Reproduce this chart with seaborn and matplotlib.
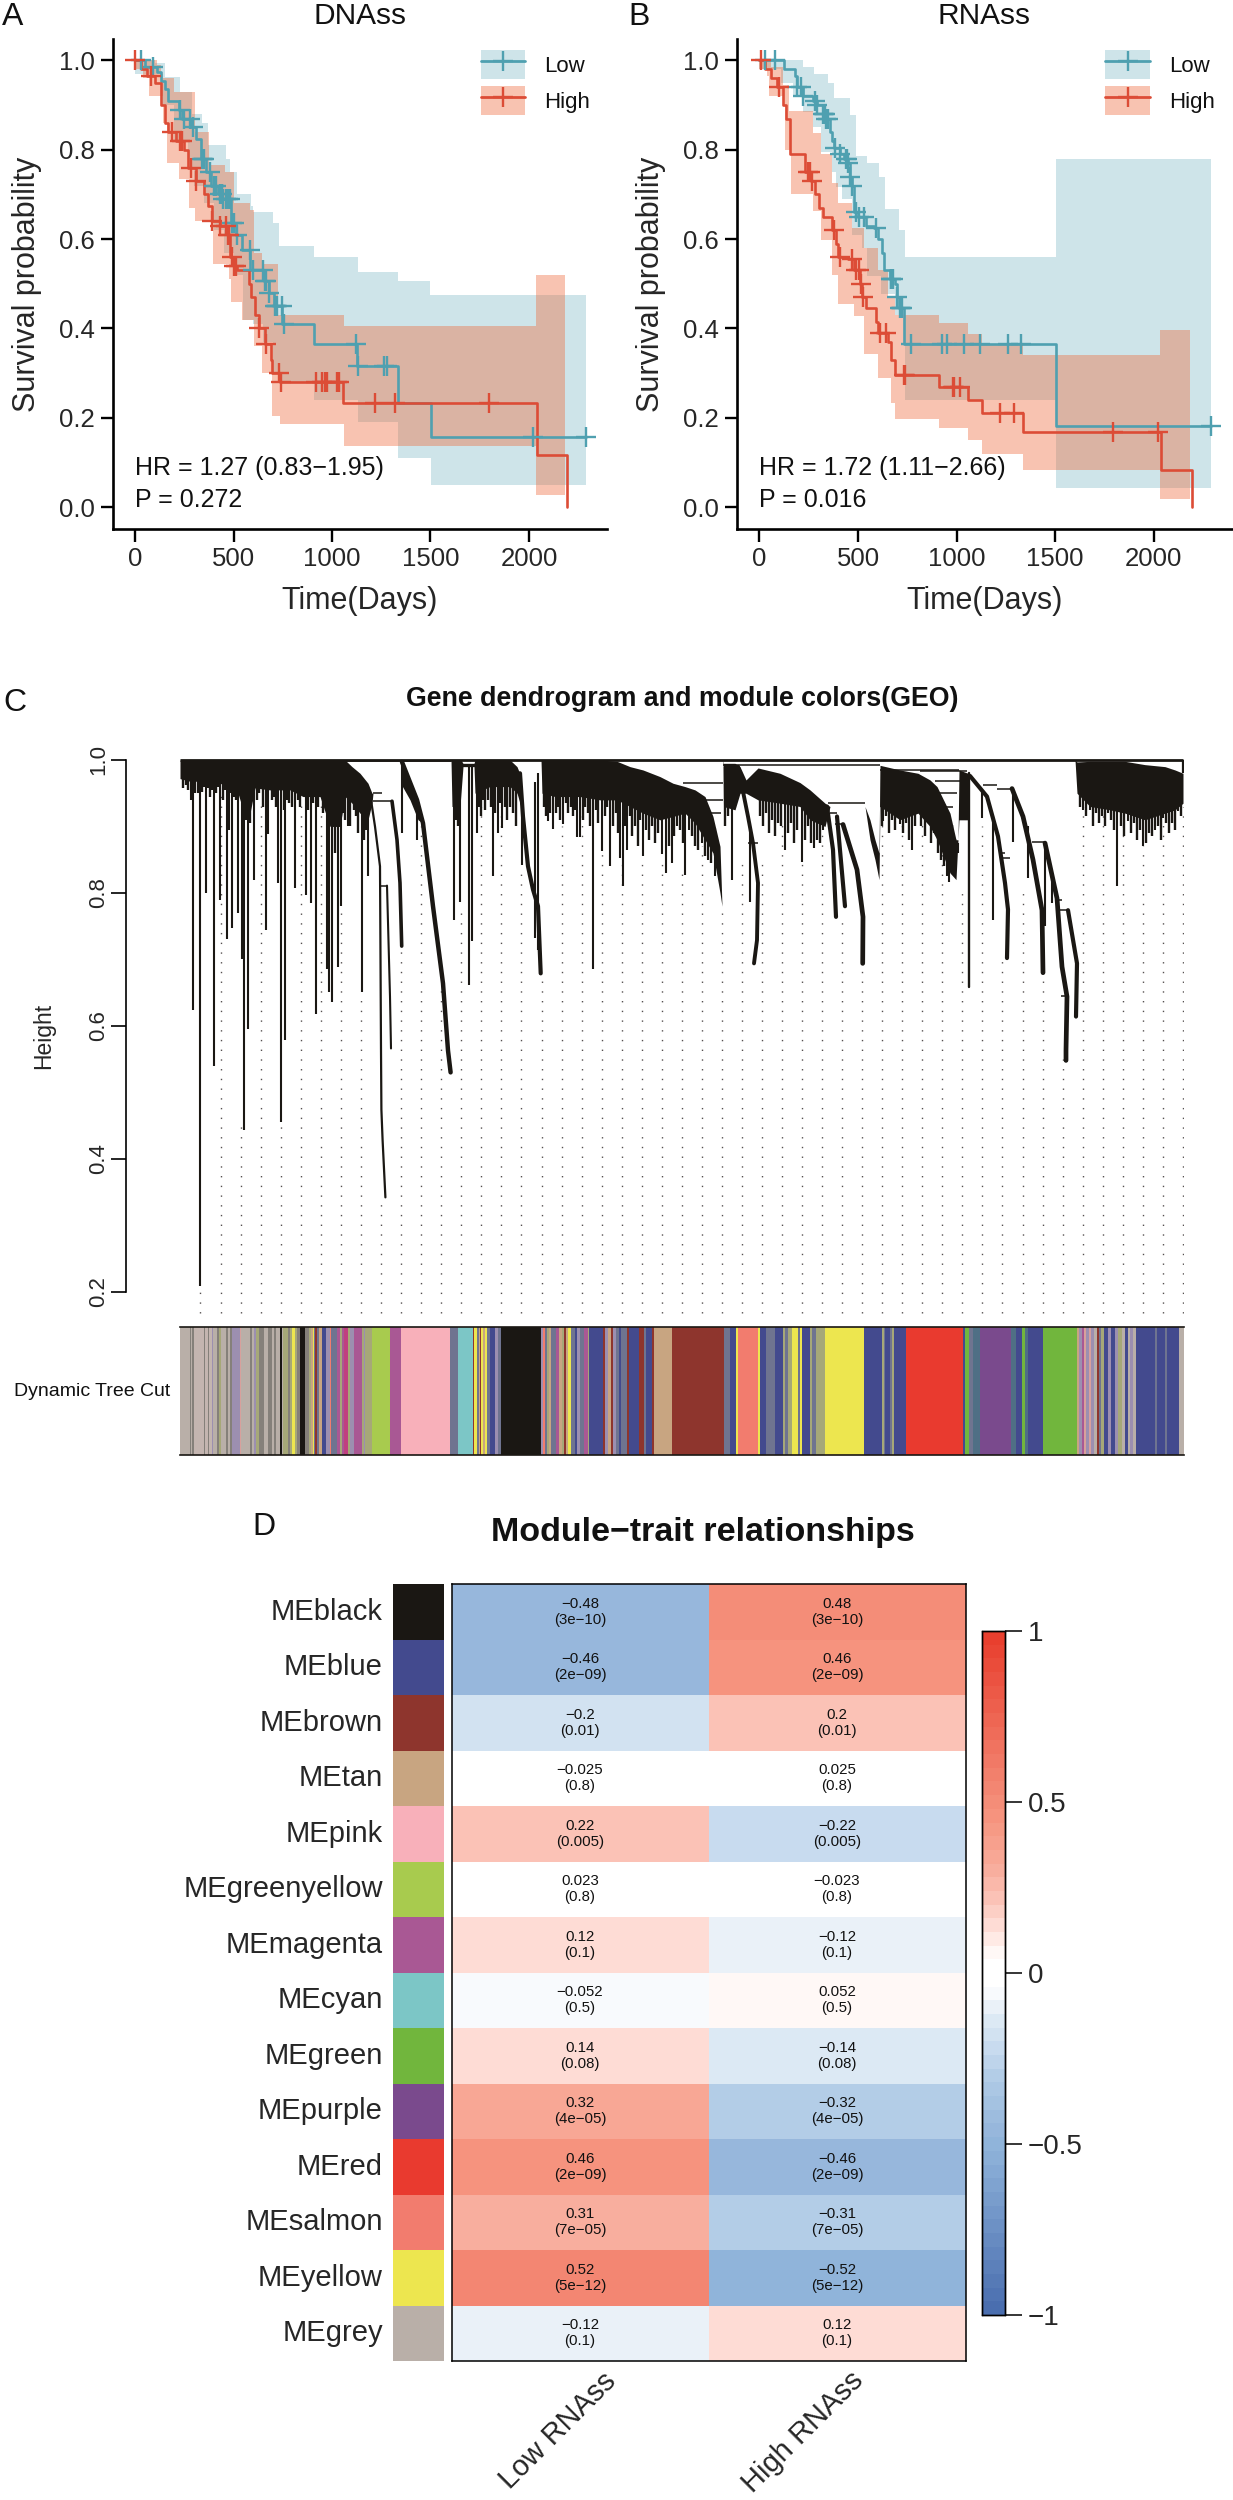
import numpy as np
import pandas as pd
import matplotlib
matplotlib.use('Agg')
import matplotlib.pyplot as plt
import seaborn as sns
from matplotlib.colors import LinearSegmentedColormap, ListedColormap
from matplotlib.legend_handler import HandlerTuple
from matplotlib.lines import Line2D
from matplotlib.patches import Patch
from matplotlib.transforms import ScaledTranslation

# panel A, DNAss
a_low_t = [0, 50, 110, 130, 150, 170, 222, 240, 283, 310, 333, 360, 384, 420, 444, 485, 515, 545, 586, 656, 680, 707, 747, 909, 1127, 1333, 1505, 2290]
a_low_s = [1.0, .985, .975, .955, .935, .91, .89, .87, .85, .825, .78, .75, .72, .70, .69, .635, .61, .575, .53, .507, .48, .45, .41, .365, .315, .234, .157, .157]
a_low_up_t = [0, 100, 150, 230, 290, 340, 370, 460, 480, 520, 590, 600, 700, 730, 910, 1130, 1335, 1500, 2290]
a_low_up = [1, .995, .964, .93, .88, .86, .81, .78, .75, .70, .675, .66, .635, .585, .56, .527, .507, .475, .475]
a_low_lo_t = [0, 130, 200, 270, 300, 350, 400, 450, 500, 550, 600, 650, 700, 730, 910, 1130, 1333, 1505, 2290]
a_low_lo = [.97, .90, .82, .76, .72, .68, .62, .57, .52, .42, .41, .37, .30, .28, .24, .19, .11, .05, .05]
a_high_t = [0, 30, 60, 100, 130, 150, 170, 210, 250, 270, 310, 350, 370, 390, 430, 470, 480, 500, 520, 580, 590, 610, 630, 660, 690, 695, 735, 1055, 2040, 2195]
a_high_s = [1.0, .98, .966, .95, .90, .86, .84, .82, .80, .76, .73, .70, .675, .64, .63, .61, .56, .54, .53, .50, .47, .43, .40, .365, .33, .30, .28, .233, .117, 0.0]
a_high_up_t = [0, 110, 130, 141, 200, 303, 374, 455, 505, 586, 606, 646, 727, 1060, 2036, 2182]
a_high_up = [1, .99, .97, .96, .93, .84, .765, .75, .68, .665, .57, .545, .43, .405, .52, .52]
a_high_lo_t = [0, 40, 70, 141, 160, 222, 272, 303, 394, 475, 485, 545, 606, 646, 697, 737, 1060, 2036, 2182]
a_high_lo = [.98, .96, .92, .86, .77, .735, .67, .64, .545, .51, .46, .42, .36, .30, .205, .185, .136, .028, .028]
a_low_cens = [30, 90, 230, 250, 280, 295, 340, 345, 350, 380, 400, 410, 430, 440, 445, 460, 470, 480, 490, 505, 520, 585, 600, 650, 660, 665, 680, 710, 715, 720, 745, 755, 1120, 1130, 1265, 1280, 2020, 2290]
a_high_cens = [0, 80, 190, 230, 240, 285, 310, 390, 430, 460, 470, 475, 490, 500, 515, 630, 665, 730, 740, 920, 950, 965, 975, 1025, 1035, 1220, 1320, 1795]

# panel B, RNAss
b_low_t = [0, 125, 180, 190, 220, 270, 290, 320, 340, 360, 370, 380, 410, 430, 450, 460, 470, 480, 500, 540, 580, 600, 620, 630, 660, 690, 700, 710, 735, 1505, 2290]
b_low_s = [1.0, .98, .965, .94, .92, .91, .90, .88, .87, .84, .82, .805, .79, .78, .77, .74, .72, .66, .65, .63, .625, .60, .57, .53, .51, .50, .47, .445, .365, .182, .182]
b_low_up_t = [0, 219, 279, 349, 379, 459, 489, 548, 608, 638, 688, 708, 738, 1505, 2290]
b_low_up = [1, .985, .97, .95, .917, .877, .785, .77, .74, .668, .668, .62, .56, .78, .78]
b_low_lo_t = [0, 110, 170, 220, 270, 310, 370, 390, 420, 470, 520, 548, 618, 688, 738, 1505, 2290]
b_low_lo = [.98, .95, .92, .885, .85, .795, .75, .717, .69, .61, .58, .517, .477, .43, .24, .043, .043]
b_high_t = [0, 30, 60, 90, 120, 135, 155, 230, 260, 280, 300, 320, 370, 390, 400, 450, 480, 510, 520, 540, 590, 600, 650, 670, 690, 910, 1060, 1130, 1335, 2040, 2195]
b_high_s = [1.0, .98, .96, .94, .90, .87, .79, .75, .73, .70, .67, .65, .62, .59, .56, .555, .53, .50, .47, .445, .415, .39, .37, .33, .295, .27, .24, .21, .168, .083, 0.0]
b_high_up_t = [0, 60, 120, 150, 230, 270, 310, 370, 400, 470, 530, 600, 650, 688, 910, 1057, 1130, 1336, 2034, 2183]
b_high_up = [1, .985, .945, .886, .886, .837, .79, .726, .68, .624, .58, .53, .468, .43, .413, .388, .363, .34, .397, .397]
b_high_lo_t = [0, 40, 50, 120, 130, 160, 230, 270, 310, 370, 400, 480, 530, 600, 670, 690, 910, 1057, 1127, 1336, 2034, 2183]
b_high_lo = [.98, .966, .92, .90, .80, .70, .70, .664, .597, .52, .455, .428, .343, .29, .232, .197, .177, .15, .12, .083, .018, .018]
b_low_cens = [30, 80, 190, 210, 220, 280, 290, 320, 330, 335, 340, 350, 385, 410, 440, 445, 450, 460, 470, 490, 505, 530, 590, 665, 670, 680, 700, 715, 720, 725, 770, 925, 950, 1040, 1120, 1260, 1325, 2290]
b_high_cens = [10, 100, 245, 255, 265, 380, 410, 470, 490, 505, 515, 525, 610, 640, 735, 740, 980, 985, 1020, 1220, 1290, 1795, 2020]

# panel C, gene dendrogram, x is gene rank along the tree
canopy_x = [0, 10, 23, 40, 57, 62, 70, 75, 90, 110, 123, 140, 150, 160, 165, 172, 180, 188, 192, 193, 222, 222.5, 230, 238, 243, 271, 272, 280, 281, 283, 294, 295, 310, 330, 337, 341, 343, 361, 362, 375, 400, 420, 437, 450, 463, 480, 493, 505, 515, 525, 533, 540, 542, 543, 543.5, 555, 560, 566, 578, 600, 620, 630, 645, 650, 685, 690, 695, 699, 700, 720, 738, 750, 757, 770, 776, 778, 779, 788, 789, 895, 897, 910, 930, 945, 965, 985, 995, 1003]
canopy_top = [1, 1, 1, 1, 1, 1, 1, 1, 1, 1, 1, 1, 1, 1, 1, .99, .98, .965, .95, .95, .997, .997, .97, .94, .905, 1, 1, 1, 1, .995, .995, 1, 1, 1, .99, .975, .915, 1, 1, 1, 1, 1, .998, .99, .985, .975, .965, .96, .955, .945, .915, .87, .78, 1, .995, .995, .99, .97, .988, .98, .966, .955, .935, .93, .93, .91, .88, .86, .992, .985, .98, .97, .96, .92, .88, .88, .985, .98, .98, 1, .997, .998, .998, .998, .993, .99, .985, .98]
canopy_low = [.972, .968, .968, .965, .955, .93, .92, .958, .955, .955, .945, .945, .90, .90, .945, .935, .92, .91, .935, .95, .997, .96, .94, .91, .905, 1, .93, .93, .95, .99, .99, .95, .96, .96, .95, .93, .915, 1, .95, .945, .945, .94, .94, .93, .92, .91, .915, .92, .905, .88, .86, .80, .78, 1, .93, .925, .95, .95, .94, .935, .93, .91, .90, .93, .93, .88, .85, .82, .93, .91, .92, .90, .88, .83, .82, .88, .91, .91, .98, 1, .95, .93, .925, .92, .91, .92, .925, .935]
spike_x = [11, 13, 18, 20, 26, 28, 34, 40, 47, 49, 52, 58, 62, 64, 68, 74, 86, 88, 98, 101, 105, 115, 126, 131, 136, 147, 149, 152, 158, 161, 168, 182, 188,
           222, 237, 274, 280, 289, 292, 297, 313, 318, 322, 342, 355, 358,
           368, 373, 383, 397, 400, 413, 422, 430, 440, 443, 447, 463, 482, 486, 492, 497, 505, 509, 522, 528, 535, 552, 605, 622, 634, 643,
           703, 720, 732, 748, 767, 769, 778,
           903, 910, 928, 937, 948, 963, 975, 983, 998]
spike_low = [.94, .624, .95, .209, .80, .958, .54, .79, .73, .895, .747, .77, .70, .444, .596, .82, .744, .888, .815, .455, .578, .807, .797, .785, .618, .686, .651, .636, .689, .78, .90, .651, .825,
             .89, .879, .76, .787, .662, .727, .89, .825, .89, .898, .842, .732, .714,
             .908, .896, .904, .884, .884, .686, .863, .841, .852, .81, .865, .855, .859, .83, .845, .90, .827, .895, .875, .85, .825, .82, .865, .846, .868, .895,
             .908, .903, .865, .92, .825, .817, .86,
             .925, .925, .92, .81, .908, .87, .895, .913, .923]
hair_x = [3, 6, 8, 15, 22, 24, 30, 32, 36, 38, 43, 45, 50, 54, 56, 66, 70, 72, 77, 79, 83, 92, 94, 96, 104, 107, 109, 112, 118, 120, 128, 133, 138, 143, 145, 155, 163, 165, 170, 174, 176, 178, 184, 186,
          276, 278, 299, 301, 303, 305, 308, 311, 315, 320, 325, 327, 330, 333, 336,
          364, 366, 370, 376, 378, 380, 386, 388, 391, 393, 395, 403, 405, 408, 410, 416, 418, 425, 427, 433, 436, 438, 445, 450, 452, 455, 458, 460, 466, 469, 472, 475, 478, 489, 494, 500, 503, 512, 515, 518, 525, 531,
          545, 548,
          580, 583, 586, 589, 592, 595, 598, 601, 608, 611, 614, 617, 625, 628, 631, 637, 640,
          702, 706, 709, 712, 715, 723, 726, 729, 735, 741, 745, 751, 754, 758, 761, 764, 772, 775,
          900, 906, 913, 916, 919, 922, 925, 931, 934, 941, 944, 951, 954, 957, 960, 966, 969, 972, 978, 981, 986, 989, 992, 995, 1001]
hair_low = [.958, .962, .955, .95, .952, .96, .945, .955, .95, .96, .94, .955, .95, .945, .94, .91, .905, .945, .94, .95, .93, .94, .945, .93, .925, .94, .935, .93, .94, .93, .925, .935, .93, .92, .93, .86, .92, .91, .90, .925, .915, .89, .88, .895,
            .91, .90, .93, .915, .94, .925, .94, .93, .92, .935, .93, .91, .93, .92, .90,
            .93, .915, .92, .92, .93, .91, .935, .92, .93, .915, .925, .91, .93, .92, .90, .925, .905, .915, .93, .90, .92, .89, .90, .915, .885, .90, .87, .91, .895, .88, .90, .875, .89, .87, .885, .895, .875, .885, .87, .865, .855, .845,
            .90, .915,
            .915, .90, .92, .89, .91, .885, .905, .90, .89, .905, .875, .895, .88, .90, .875, .88, .875,
            .90, .915, .89, .91, .895, .89, .905, .88, .90, .90, .885, .875, .89, .86, .85, .84, .83, .84,
            .93, .915, .90, .92, .905, .915, .90, .91, .895, .90, .885, .89, .905, .88, .895, .875, .89, .885, .90, .88, .905, .89, .905, .895, .915]
tail_spike_x = [813, 802, 833, 848, 865, 872, 570]
tail_spike_low = [.76, .913, .877, .822, .75, .785, .787]
tail_spike_top = [.915, .955, .95, .90, .87, .83, .90]
tail_1_x, tail_1_h = [190, 195, 200, 201, 201.4, 202.6, 205.4], [.95, .90, .84, .564, .474, .428, .342]
tail_2_x, tail_2_h = [207, 210, 211], [.811, .644, .566]
tail_3_x, tail_3_h = [212, 217, 220, 221.7], [.938, .88, .815, .72]
tail_4_x, tail_4_h = [222, 237, 243, 253, 263, 268, 270.6], [.997, .94, .905, .78, .664, .563, .53]
tail_5_x, tail_5_h = [340, 343, 348, 353, 358, 360.7], [.98, .915, .84, .805, .78, .679]
tail_6_x, tail_6_h = [558, 568, 573, 578, 577, 574], [.99, .915, .875, .815, .729, .694]
tail_7_x, tail_7_h = [647, 653, 656], [.93, .865, .764]
tail_8_x, tail_8_h = [657, 665], [.915, .78]
tail_9_x, tail_9_h = [663, 677, 683, 682.7], [.903, .835, .764, .694]
tail_10_x, tail_10_h = [789, 789], [.98, .659]
tail_11_x, tail_11_h = [790, 807, 818, 825, 828, 827], [.976, .945, .885, .815, .775, .702]
tail_12_x, tail_12_h = [832, 843, 853, 862, 863], [.957, .915, .85, .774, .68]
tail_13_x, tail_13_h = [865, 877, 882, 887, 886, 886], [.875, .792, .689, .644, .563, .548]
tail_14_x, tail_14_h = [888, 897, 896], [.774, .694, .614]
bracket_x0 = [193, 193, 200, 162, 222, 503, 525, 530, 568, 648, 650, 655, 543, 700, 740, 755, 760, 763, 803, 817, 822, 822, 852, 877, 877, 881]
bracket_x1 = [202, 212, 207, 222, 271, 543, 543, 541, 578, 685, 657, 662, 700, 779, 787, 780, 777, 773, 817, 832, 825, 830, 864, 882, 888, 886]
bracket_h = [.95, .938, .811, .998, .998, .966, .94, .92, .875, .935, .92, .904, .993, .985, .983, .968, .95, .93, .962, .957, .86, .853, .876, .79, .774, .645]
guide_x = [20, 41, 61, 81, 101, 121, 141, 161, 181, 201, 221, 241, 261, 281, 301, 321, 341, 362, 382, 402, 422, 442, 462, 482, 502, 522, 542, 562, 582, 602, 622, 642, 662, 682, 702, 722, 742, 762, 782, 802, 822, 843, 863, 883, 903, 923, 943, 963, 983, 1003]
guide_top = [.21, .955, .45, .94, .455, .94, .94, .78, .65, .34, .72, .90, .66, .78, .93, .93, .84, .68, .90, .92, .86, .85, .85, .85, .83, .87, .78, .85, .85, .91, .85, .90, .76, .69, .92, .91, .91, .87, .81, .90, .70, .80, .68, .55, .93, .92, .90, .87, .91, .93]

band_colors = {
    'grey': '#B9AFA8', 'black': '#1A1713', 'blue': '#434A8E', 'brown': '#8E352D', 'tan': '#C8A581',
    'pink': '#F8B0BA', 'greenyellow': '#A8CB4E', 'magenta': '#A95894', 'cyan': '#7CC6C6', 'green': '#71B63D',
    'purple': '#7A4A8D', 'red': '#E93A2F', 'salmon': '#F27C6E', 'yellow': '#EDE64F',
    'dim': '#85807A', 'g2': '#C4B5B0', 'lilac': '#9C8FB0', 'olive': '#A6A878', 'rose': '#D8A09C',
    'slate': '#6F7490', 'crimson': '#C0407F', 'teal': '#4F6F85',
}
band_modules = ['grey', 'dim', 'grey', 'dim', 'g2', 'dim', 'g2', 'dim', 'g2', 'lilac', 'grey', 'dim', 'olive', 'grey', 'dim', 'grey', 'dim', 'lilac', 'rose', 'grey', 'dim', 'grey', 'lilac', 'olive', 'dim', 'grey', 'dim', 'grey', 'dim', 'grey', 'black', 'grey', 'olive', 'dim', 'olive', 'yellow', 'olive', 'dim', 'black',
                'dim', 'olive', 'tan', 'yellow', 'slate', 'brown', 'slate', 'tan', 'blue', 'lilac', 'salmon', 'slate', 'magenta', 'olive', 'magenta', 'crimson', 'olive', 'lilac', 'magenta', 'olive', 'lilac', 'olive',
                'greenyellow', 'magenta', 'pink', 'slate', 'cyan', 'brown', 'yellow', 'slate', 'tan', 'brown', 'yellow', 'tan', 'yellow', 'slate', 'blue', 'lilac', 'slate', 'black',
                'lilac', 'salmon', 'slate', 'olive', 'tan', 'slate', 'magenta', 'tan', 'olive', 'brown', 'tan', 'yellow', 'slate', 'blue', 'lilac', 'slate', 'magenta', 'olive', 'blue', 'brown', 'lilac', 'tan', 'brown', 'lilac', 'slate', 'blue', 'slate', 'brown', 'blue', 'brown', 'slate', 'blue', 'brown', 'tan', 'brown',
                'slate', 'blue', 'yellow', 'salmon', 'yellow', 'blue', 'slate', 'blue', 'olive', 'slate', 'olive', 'yellow', 'slate', 'yellow', 'blue', 'olive', 'slate', 'olive', 'yellow',
                'blue', 'olive', 'slate', 'blue', 'slate', 'olive', 'blue', 'red', 'blue', 'green', 'slate', 'teal', 'purple', 'teal', 'blue', 'green', 'teal', 'blue', 'green',
                'tan', 'lilac', 'magenta', 'rose', 'lilac', 'rose', 'lilac', 'grey', 'brown', 'slate', 'olive', 'blue', 'lilac', 'blue', 'lilac', 'olive', 'grey', 'blue', 'grey', 'lilac', 'grey', 'blue', 'slate', 'blue', 'slate', 'blue', 'grey']
band_right = [10, 11, 12, 14, 24, 25, 28, 29, 32, 33, 37, 39, 41, 46, 48, 50, 52, 60, 61, 70, 72, 74, 76, 79, 84, 88, 92, 94, 96, 100, 101.5, 103, 108, 110, 112, 115, 117, 120, 124.5,
              129, 131, 133, 134, 135, 137, 139, 142, 146, 150, 151, 157, 160, 162, 164, 168, 170, 174, 182, 184, 185, 192,
              210, 221, 270, 278, 293, 294, 297, 299, 300, 301, 303, 305, 307, 310, 315, 318, 321, 360.7,
              363, 365, 367, 369, 371, 376, 379, 382, 384, 386, 388, 391, 395, 397, 400, 404, 408, 409, 423, 425, 428, 431, 433, 436, 439, 441, 447, 449, 459, 464, 466, 472, 473.5, 492, 543.5,
              550, 556, 557.5, 578, 580, 586, 595, 603, 605, 608, 612, 618, 620, 622, 630, 632, 636, 645, 683.5,
              702, 703.5, 705, 710, 712, 714, 725.5, 783, 785, 789, 793, 800, 831, 836, 842, 845, 848, 863, 897,
              899, 902, 904, 906, 909, 911, 914, 917, 919, 921, 924, 928, 931, 935, 938, 942, 945, 948, 950, 953, 956, 975, 977, 985, 987, 999, 1004]

# panel D, module-trait heatmap
module_names = ['MEblack', 'MEblue', 'MEbrown', 'MEtan', 'MEpink', 'MEgreenyellow', 'MEmagenta', 'MEcyan', 'MEgreen', 'MEpurple', 'MEred', 'MEsalmon', 'MEyellow', 'MEgrey']
module_hex = ['#1A1713', '#434A8E', '#8E352D', '#C8A581', '#F8B0BA', '#A8CB4E', '#A95894', '#7CC6C6', '#71B63D', '#7A4A8D', '#E93A2F', '#F27C6E', '#EDE64F', '#B9AFA8']
trait_names = ['Low RNAss', 'High RNAss']
corr_low = [-0.48, -0.46, -0.2, -0.025, 0.22, 0.023, 0.12, -0.052, 0.14, 0.32, 0.46, 0.31, 0.52, -0.12]
corr_high = [0.48, 0.46, 0.2, 0.025, -0.22, -0.023, -0.12, 0.052, -0.14, -0.32, -0.46, -0.31, -0.52, 0.12]
pvals = ['3e−10', '2e−09', '0.01', '0.8', '0.005', '0.8', '0.1', '0.5', '0.08', '4e−05', '2e−09', '7e−05', '5e−12', '0.1']
cmap_stops = [-1, -.52, -.46, -.32, -.22, -.14, -.04, .04, .12, .22, .32, .46, .52, 1]
cmap_colors = ['#4A6EAF', '#8FB3DA', '#98B8DC', '#B0CBE6', '#C9DCEF', '#DDE9F4', '#FFFFFF', '#FFFFFF', '#FFE4DE', '#FBC3B7', '#F8AB9A', '#F6957F', '#F48B77', '#E83F2E']

W, H = 1233, 2500
LOW_C, HIGH_C = '#4FA0B0', '#DC4C36'
HIGH_BAND = '#EE6B3C'
INK = '#1A1713'

sns.set_style('white')
plt.rcParams['font.family'] = ['Liberation Sans', 'DejaVu Sans']
plt.rcParams['text.color'] = '#111111'

fig = plt.figure(figsize=(W / 100, H / 100), dpi=100)


def axes_px(left, top, right, bottom):
    return fig.add_axes([left / W, 1 - bottom / H, (right - left) / W, (bottom - top) / H])


def step_value(t, s, at):
    idx = np.searchsorted(t, at, side='right') - 1
    return np.asarray(s)[idx]


def draw_group(ax, t, s, up_t, up, lo_t, lo, cens, color, band_color, alpha):
    grid = np.union1d(up_t, lo_t)
    ax.fill_between(grid, step_value(lo_t, lo, grid), step_value(up_t, up, grid), step='post', color=band_color, alpha=alpha, lw=0)
    sns.lineplot(x=t, y=s, drawstyle='steps-post', color=color, lw=1.9, estimator=None, ax=ax)
    sns.scatterplot(x=cens, y=step_value(t, s, cens), marker='+', s=190, linewidth=1.7, color=color, ax=ax, zorder=3)


def km_panel(ax, title, hr_text, p_text, low, high, xlim):
    draw_group(ax, *low, LOW_C, LOW_C, 0.28)
    draw_group(ax, *high, HIGH_C, HIGH_BAND, 0.40)
    ax.set_xlim(*xlim)
    ax.set_ylim(-0.049, 1.048)
    ax.set_xticks([0, 500, 1000, 1500, 2000])
    ax.set_yticks([0, .2, .4, .6, .8, 1.0])
    ax.set_yticklabels(['0.0', '0.2', '0.4', '0.6', '0.8', '1.0'])
    ax.tick_params(labelsize=18.5, length=9, width=1.7, color='black', pad=4, left=True, bottom=True)
    sns.despine(ax=ax)
    ax.spines['left'].set_linewidth(1.9)
    ax.spines['bottom'].set_linewidth(1.9)
    ax.spines['left'].set_color('black')
    ax.spines['bottom'].set_color('black')
    ax.set_xlabel('Time(Days)', fontsize=22, labelpad=11)
    ax.set_ylabel('Survival probability', fontsize=22, labelpad=12)
    ax.set_title(title, fontsize=21.5, pad=11)
    ax.text(0, .088, hr_text, fontsize=18, va='center')
    ax.text(0, .017, p_text, fontsize=18, va='center')
    handles = [(Patch(color=LOW_C, alpha=.28, lw=0), Line2D([], [], color=LOW_C, lw=2, marker='+', ms=14, mew=1.7)),
               (Patch(color=HIGH_BAND, alpha=.40, lw=0), Line2D([], [], color=HIGH_C, lw=2, marker='+', ms=14, mew=1.7))]
    ax.legend(handles, ['Low', 'High'], handler_map={tuple: HandlerTuple(ndivide=1, pad=0)}, loc='upper right',
              bbox_to_anchor=(.965, .978), frameon=False, fontsize=16, handlelength=2.0, handleheight=1.65,
              handletextpad=.85, labelspacing=.32, borderpad=0, borderaxespad=0)


ax_a = axes_px(113, 39, 607, 529)
km_panel(ax_a, 'DNAss', 'HR = 1.27 (0.83−1.95)', 'P = 0.272',
         (a_low_t, a_low_s, a_low_up_t, a_low_up, a_low_lo_t, a_low_lo, a_low_cens),
         (a_high_t, a_high_s, a_high_up_t, a_high_up, a_high_lo_t, a_high_lo, a_high_cens), (-111.7, 2396))
ax_b = axes_px(737, 39, 1232, 529)
km_panel(ax_b, 'RNAss', 'HR = 1.72 (1.11−2.66)', 'P = 0.016',
         (b_low_t, b_low_s, b_low_up_t, b_low_up, b_low_lo_t, b_low_lo, b_low_cens),
         (b_high_t, b_high_s, b_high_up_t, b_high_up, b_high_lo_t, b_high_lo, b_high_cens), (-114, 2398))

# dendrogram
ax_c = axes_px(180, 758, 1184, 1314)
sns.despine(ax=ax_c, bottom=True)
ax_c.spines['left'].set_position(('outward', 39))
ax_c.spines['left'].set_linewidth(1.2)
ax_c.spines['left'].set_color('black')
ax_c.vlines(guide_x, 0.168, guide_top, color='#555050', lw=1.0, linestyles=(0, (1, 6)), zorder=1)
ax_c.fill_between(canopy_x, canopy_low, canopy_top, color=INK, lw=0, zorder=2)
ax_c.vlines(spike_x, spike_low, np.interp(spike_x, canopy_x, canopy_top) - .005, color=INK, lw=1.5, zorder=2)
ax_c.vlines(hair_x, hair_low, np.interp(hair_x, canopy_x, canopy_top) - .005, color=INK, lw=1.7, zorder=2)
ax_c.vlines(tail_spike_x, tail_spike_low, tail_spike_top, color=INK, lw=1.5, zorder=2)
ax_c.hlines(bracket_h, bracket_x0, bracket_x1, color=INK, lw=1.1, zorder=2)
ax_c.hlines(1.0, 0, 1003, color=INK, lw=2.0, zorder=3)
ax_c.vlines(1003, .98, 1.0, color=INK, lw=1.6, zorder=3)
tails = [(tail_1_x, tail_1_h, 1.6), (tail_2_x, tail_2_h, 1.5), (tail_3_x, tail_3_h, 2.6), (tail_4_x, tail_4_h, 3.2),
         (tail_5_x, tail_5_h, 3.0), (tail_6_x, tail_6_h, 2.8), (tail_7_x, tail_7_h, 3.0), (tail_8_x, tail_8_h, 3.0),
         (tail_9_x, tail_9_h, 3.4), (tail_10_x, tail_10_h, 1.7), (tail_11_x, tail_11_h, 3.0), (tail_12_x, tail_12_h, 3.4),
         (tail_13_x, tail_13_h, 3.4), (tail_14_x, tail_14_h, 3.0)]
for tx, th, tw in tails:
    sns.lineplot(x=tx, y=th, sort=False, estimator=None, color=INK, lw=tw, ax=ax_c, zorder=2)
ax_c.set_xlim(0, 1004)
ax_c.set_ylim(0.1665, 1.003)
ax_c.spines['left'].set_bounds(.2, 1.0)
ax_c.set_xticks([])
ax_c.set_yticks([.2, .4, .6, .8, 1.0])
ax_c.set_yticklabels(['0.2', '0.4', '0.6', '0.8', '1.0'], rotation=90, va='center')
ax_c.tick_params(axis='y', labelsize=16, length=11, width=1.2, color='black', pad=1, left=True)
ax_c.set_ylabel('Height', fontsize=16.5, labelpad=24)
fig.text(682 / W, 1 - 699 / H, 'Gene dendrogram and module colors(GEO)', fontsize=19.3, fontweight='bold', ha='center', va='center')

ax_band = axes_px(180, 1327, 1184, 1455)
band_left = [0] + band_right[:-1]
ax_band.barh(0, np.subtract(band_right, band_left), left=band_left, height=1,
             color=[band_colors[m] for m in band_modules], lw=0)
ax_band.set_xlim(0, 1004)
ax_band.set_ylim(-.5, .5)
ax_band.set_xticks([])
ax_band.set_yticks([])
sns.despine(ax=ax_band, left=True, right=True)
ax_band.spines['top'].set_visible(True)
ax_band.spines['bottom'].set_visible(True)
for side in ['top', 'bottom']:
    ax_band.spines[side].set_color(INK)
    ax_band.spines[side].set_linewidth(1.2)
fig.text(170 / W, 1 - 1392 / H, 'Dynamic Tree Cut', fontsize=14, ha='right', va='center')

# module-trait heatmap
corr = pd.DataFrame({trait_names[0]: corr_low, trait_names[1]: corr_high}, index=module_names)
annot = np.array([[f"{str(a).replace('-', '−')}\n({p})", f"{str(b).replace('-', '−')}\n({p})"]
                  for a, b, p in zip(corr_low, corr_high, pvals)])
blue_white_red = LinearSegmentedColormap.from_list(
    'bwr50', [((v + 1) / 2, c) for v, c in zip(cmap_stops, cmap_colors)], N=50)
ax_d = axes_px(451.5, 1584, 965.5, 2361)
ax_cbar = axes_px(981.5, 1631, 1004.5, 2315)
sns.heatmap(corr, cmap=blue_white_red, vmin=-1, vmax=1, annot=annot, fmt='', annot_kws={'size': 10.8, 'color': '#111111'},
            yticklabels=False, ax=ax_d, cbar_ax=ax_cbar)
ax_d.set_xticklabels(trait_names, rotation=45, ha='right', rotation_mode='anchor', fontsize=21)
ax_d.tick_params(axis='x', length=0, pad=4)
# tick_params resets label transforms, so shift the labels after it
for lab, dx in zip(ax_d.get_xticklabels(), [.22, .12]):
    lab.set_transform(lab.get_transform() + ScaledTranslation(dx, 0, fig.dpi_scale_trans))
ax_d.set_ylabel('')
for spine in ax_d.spines.values():
    spine.set_visible(True)
    spine.set_color('black')
    spine.set_linewidth(1.1)
ax_cbar.set_yticks([-1, -.5, 0, .5, 1])
ax_cbar.set_yticklabels(['−1', '−0.5', '0', '0.5', '1'])
ax_cbar.tick_params(labelsize=20, length=12, width=1.1, color='black', pad=5, right=True)
for spine in ax_cbar.spines.values():
    spine.set_visible(True)
    spine.set_color('black')
    spine.set_linewidth(1.0)

ax_strip = axes_px(392.7, 1584, 444, 2361)
sns.heatmap(np.arange(len(module_names)).reshape(-1, 1), cmap=ListedColormap(module_hex), cbar=False,
            xticklabels=False, yticklabels=module_names, ax=ax_strip)
ax_strip.set_yticklabels(module_names, rotation=0, fontsize=21)
ax_strip.tick_params(axis='y', length=0, pad=7)

fig.text(703 / W, 1 - 1532 / H, 'Module−trait relationships', fontsize=24.5, fontweight='bold', ha='center', va='center')

# panel letters
for letter, px, py in [('A', 2, 17), ('B', 628, 17), ('C', 3, 703), ('D', 252, 1527)]:
    fig.text(px / W, 1 - py / H, letter, fontsize=23, ha='left', va='center')

fig.savefig('out.png', dpi=100)
